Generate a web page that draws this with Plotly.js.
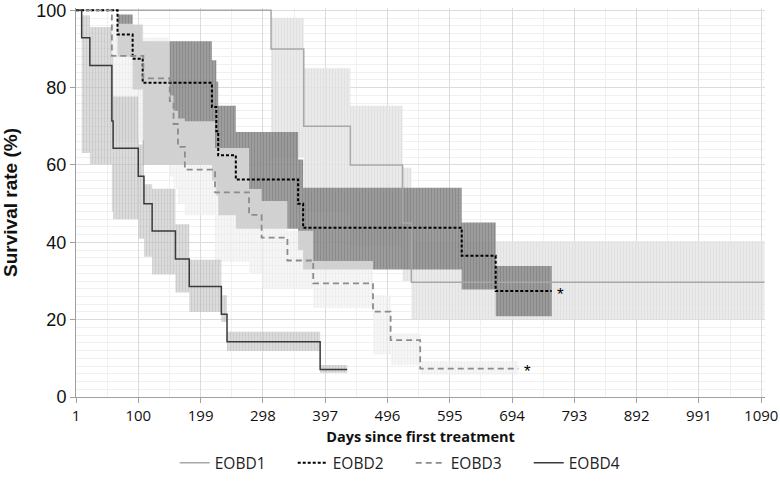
<!DOCTYPE html>
<html>
<head>
<meta charset="utf-8">
<script src="https://cdn.plot.ly/plotly-3.0.1.min.js"></script>
<style>html,body{margin:0;padding:0;background:#fff;}#chart{width:780px;height:497px;}</style>
</head>
<body>
<div id="chart"></div>
<script>
// ---- Data ----
const seriesNames = ["EOBD1", "EOBD2", "EOBD3", "EOBD4"];
const xTickVals = [1, 100, 199, 298, 397, 496, 595, 694, 793, 892, 991, 1090];

// EOBD1
const eobd1Days  = [1, 311, 363, 437, 520, 534];
const eobd1End   = 1095;
const eobd1Surv  = [100, 90, 70, 60, 45, 29.7];
const eobd1Lower = [null, 62, 48, 39, 30, 20.1];
const eobd1Upper = [null, 98.1, 85, 75.3, 59.3, 40.3];

// EOBD2
const eobd2Days  = [1, 67, 91, 107, 217, 224, 227, 255, 354, 362, 614, 668];
const eobd2End   = 757;
const eobd2Surv  = [100, 93.75, 87.5, 81.25, 75, 68.75, 62.5, 56.25, 50, 43.75, 36.5, 27.4];
const eobd2Lower = [null, 88, 79.5, 60, 56, 52, 47, 43.5, 38, 33, 27.8, 20.9];
const eobd2Upper = [null, 98.9, 96.3, 92, 87.1, 81.6, 75.3, 68.5, 61.4, 54.1, 45.1, 33.9];

// EOBD3
const eobd3Days  = [1, 58, 108, 150, 156, 163, 174, 222, 276, 296, 337, 378, 473, 501, 548];
const eobd3End   = 704;
const eobd3Surv  = [100, 88.2, 82.4, 76.5, 70.6, 64.7, 58.8, 52.9, 47.1, 41.2, 35.3, 29.4, 22.1, 14.7, 7.35];
const eobd3Lower = [null, 66.4, 60, 57, 54, 50, 47, 35, 32, 28, 28, 23, 11, 8.2, 5.8];
const eobd3Upper = [null, 96.5, 93, 78, 74, 72, 71.3, 64.4, 53.8, 50.7, 43, 35.2, 26.3, 16.5, 9.3];

// EOBD4
const eobd4Days  = [1, 10, 23, 58, 60, 100, 109, 122, 159, 181, 232, 241, 389];
const eobd4End   = 432;
const eobd4Surv  = [100, 92.9, 85.7, 71.4, 64.3, 57.1, 50, 42.9, 35.7, 28.6, 21.4, 14.3, 7.1];
const eobd4Lower = [null, 63.1, 60.2, 48, 46, 40.9, 36.3, 31.7, 27, 22, 19.4, 11.9, 6.3];
const eobd4Upper = [null, 98.7, 95.7, 88, 77.7, 65.3, 55, 53.8, 44.7, 35.5, 26.3, 16.9, 8.3];

// censor marks (asterisks) at the end of EOBD2 and EOBD3
const starX = [762, 710];
const starY = [27.4, 7.35];

// ---- Build traces ----
function stepLine(days, end, surv) {
  return { x: days.concat([end]), y: surv.concat([surv[surv.length - 1]]) };
}
function bandTraces(days, end, lower, upper, fill, hatch) {
  const x = days.slice(1).concat([end]);
  const lo = lower.slice(1); lo.push(lo[lo.length - 1]);
  const up = upper.slice(1); up.push(up[up.length - 1]);
  return [
    { x: x, y: lo, type: 'scatter', mode: 'lines', line: { width: 0, shape: 'hv' },
      showlegend: false, hoverinfo: 'skip' },
    { x: x, y: up, type: 'scatter', mode: 'lines', line: { width: 0, shape: 'hv' },
      fill: 'tonexty', fillcolor: fill,
      fillpattern: { shape: '|', bgcolor: fill, fgcolor: hatch, fgopacity: 0.35, size: 3, solidity: 0.35 },
      showlegend: false, hoverinfo: 'skip' }
  ];
}

const traces = [];
traces.push(...bandTraces(eobd1Days, eobd1End, eobd1Lower, eobd1Upper, 'rgba(230,230,230,0.85)', '#cdcdcd'));
traces.push(...bandTraces(eobd2Days, eobd2End, eobd2Lower, eobd2Upper, 'rgba(140,140,140,0.85)', '#6a6a6a'));
traces.push(...bandTraces(eobd3Days, eobd3End, eobd3Lower, eobd3Upper, 'rgba(240,240,240,0.62)', '#e2e2e2'));
traces.push(...bandTraces(eobd4Days, eobd4End, eobd4Lower, eobd4Upper, 'rgba(195,195,195,0.6)', '#b4b4b4'));

const l1 = stepLine(eobd1Days, eobd1End, eobd1Surv);
const l2 = stepLine(eobd2Days, eobd2End, eobd2Surv);
const l3 = stepLine(eobd3Days, eobd3End, eobd3Surv);
const l4 = stepLine(eobd4Days, eobd4End, eobd4Surv);

traces.push({ x: l1.x, y: l1.y, name: seriesNames[0], type: 'scatter', mode: 'lines',
  line: { color: '#a8a8a8', width: 1.5, shape: 'hv' } });
traces.push({ x: l2.x, y: l2.y, name: seriesNames[1], type: 'scatter', mode: 'lines',
  line: { color: '#000000', width: 2, shape: 'hv', dash: '3px,2px' } });
traces.push({ x: l3.x, y: l3.y, name: seriesNames[2], type: 'scatter', mode: 'lines',
  line: { color: '#8c8c8c', width: 1.8, shape: 'hv', dash: '6px,4px' } });
traces.push({ x: l4.x, y: l4.y, name: seriesNames[3], type: 'scatter', mode: 'lines',
  line: { color: '#3a3a3a', width: 1.5, shape: 'hv' } });

const annotations = starX.map((sx, i) => ({
  x: sx, y: starY[i], xref: 'x', yref: 'y', text: '*', showarrow: false,
  xanchor: 'left', yanchor: 'middle', yshift: -3,
  font: { family: 'Liberation Sans, Arial, sans-serif', size: 17, color: '#000' }
}));

const layout = {
  width: 780, height: 497,
  margin: { l: 76, r: 15, t: 8, b: 100, autoexpand: false },
  paper_bgcolor: '#ffffff', plot_bgcolor: '#ffffff',
  showlegend: true,
  legend: {
    orientation: 'h', x: 0.224, xanchor: 'left', xref: 'container',
    y: 0.068, yanchor: 'middle', yref: 'container',
    entrywidth: 73, entrywidthmode: 'pixels',
    font: { family: 'Open Sans, sans-serif', size: 15.5, color: '#222' },
    traceorder: 'normal'
  },
  xaxis: {
    range: [1, 1096], tickmode: 'array', tickvals: xTickVals, ticktext: xTickVals.map(String),
    showgrid: true, gridcolor: '#dcdcdc', gridwidth: 1, zeroline: false,
    showline: true, linecolor: '#a0a0a0', linewidth: 1,
    ticks: 'outside', ticklen: 5, tickcolor: '#a0a0a0',
    minor: { tickmode: 'linear', tick0: 1, dtick: 49.5, showgrid: true, gridcolor: '#f0f0f0', ticks: '' },
    tickfont: { family: 'Open Sans, sans-serif', size: 15, color: '#111' },
    title: { text: 'Days since first treatment', standoff: 43,
      font: { family: 'Open Sans, sans-serif', size: 14.5, color: '#111', weight: 'bold' } }
  },
  yaxis: {
    range: [0, 100.6], tickmode: 'array', tickvals: [0, 20, 40, 60, 80, 100],
    showgrid: true, gridcolor: '#dcdcdc', gridwidth: 1, zeroline: false,
    showline: true, linecolor: '#a0a0a0', linewidth: 1,
    ticks: 'outside', ticklen: 5, tickcolor: '#a0a0a0',
    minor: { tickmode: 'linear', tick0: 0, dtick: 2, showgrid: true, gridcolor: '#f0f0f0', ticks: '' },
    tickfont: { family: 'Liberation Sans, Arial, sans-serif', size: 18, color: '#111' },
    title: { text: 'Survival rate (%)', standoff: 14,
      font: { family: 'Liberation Sans, Arial, sans-serif', size: 19, color: '#111', weight: 'bold' } }
  },
  annotations: annotations
};

Plotly.newPlot('chart', traces, layout, { displayModeBar: false, staticPlot: true });
</script>
</body>
</html>
